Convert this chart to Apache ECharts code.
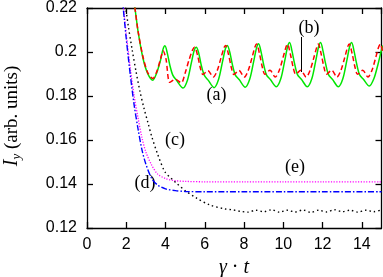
<!DOCTYPE html>
<html><head><meta charset="utf-8">
<script src="https://cdn.jsdelivr.net/npm/echarts@6/dist/echarts.min.js"></script>
<style>html,body{margin:0;padding:0;background:#fff}#c{width:383px;height:277px}</style>
</head><body><div id="c"></div>
<script>
// ---- data ----
const xTicks = [0, 2, 4, 6, 8, 10, 12, 14];
const yTicks = [0.12, 0.14, 0.16, 0.18, 0.2, 0.22];

const greenT = [2.3,2.44,2.61,2.86,3.1,3.35,3.55,3.75,3.87,3.97,4.09,4.22,4.37,4.57,4.89,5.12,5.32,5.47,5.57,5.69,5.82,5.97,6.17,6.47,6.7,6.9,7.05,7.15,7.27,7.4,7.55,7.75,8.06,8.29,8.49,8.64,8.74,8.86,8.99,9.14,9.34,9.64,9.87,10.07,10.22,10.32,10.44,10.57,10.72,10.92,11.22,11.45,11.65,11.8,11.9,12.02,12.15,12.3,12.5,12.8,13.03,13.23,13.38,13.48,13.6,13.73,13.88,14.08,14.38,14.61,14.81,14.96,15.06];
const greenV = [0.2275,0.22,0.2088,0.1968,0.19,0.1872,0.1905,0.1965,0.2012,0.2028,0.1995,0.194,0.1895,0.187,0.1836,0.1873,0.1953,0.201,0.2022,0.1995,0.194,0.1895,0.1872,0.1838,0.1875,0.1955,0.2015,0.203,0.2,0.1945,0.1896,0.1875,0.184,0.1877,0.1957,0.202,0.2037,0.2003,0.1946,0.1896,0.1875,0.1842,0.1878,0.196,0.2025,0.2043,0.2005,0.1948,0.1897,0.1876,0.1842,0.1878,0.196,0.2025,0.2043,0.2005,0.1948,0.1897,0.1876,0.1842,0.1878,0.196,0.2025,0.2043,0.2005,0.1948,0.1897,0.1876,0.1845,0.1878,0.194,0.1995,0.203];

const redT = [2.3,2.44,2.6,2.86,3.1,3.35,3.55,3.75,3.88,4.02,4.22,4.5,4.8,5.0,5.2,5.38,5.48,5.63,5.78,5.9,6.16,6.43,6.63,6.83,6.98,7.06,7.21,7.36,7.48,7.74,8.01,8.21,8.41,8.56,8.64,8.79,8.94,9.06,9.32,9.59,9.79,9.99,10.14,10.21,10.36,10.51,10.63,10.89,11.16,11.36,11.56,11.71,11.78,11.93,12.08,12.2,12.46,12.73,12.93,13.13,13.28,13.36,13.51,13.66,13.78,14.04,14.31,14.51,14.71,14.86,14.94,15.05];
const redV = [0.2275,0.22,0.2095,0.1975,0.1905,0.188,0.191,0.197,0.2005,0.197,0.1862,0.1876,0.186,0.1905,0.1965,0.201,0.2022,0.1985,0.1925,0.1898,0.1915,0.1886,0.1915,0.1975,0.202,0.203,0.1988,0.1926,0.1898,0.1916,0.1886,0.1916,0.1976,0.2024,0.2036,0.199,0.1927,0.1899,0.1917,0.1886,0.1916,0.1976,0.2024,0.2036,0.199,0.1927,0.1899,0.1917,0.1886,0.1916,0.1976,0.2024,0.2036,0.199,0.1927,0.1899,0.1917,0.1886,0.1916,0.1976,0.2024,0.2036,0.199,0.1927,0.1899,0.1917,0.1886,0.1916,0.1976,0.2024,0.2036,0.2005];

const blackT = [1.9,2.1,2.3,2.5,2.7,2.9,3.1,3.3,3.6,3.97,4.3,4.6,5.0,5.6,6.25,7.0,7.4,7.8,8.2,8.6,9.0,9.4,9.8,10.2,10.6,11.0,11.4,11.8,12.2,12.6,13.0,13.4,13.8,14.2,14.6,15.0];
const blackV = [0.225,0.212,0.201,0.191,0.182,0.1745,0.168,0.1615,0.1535,0.1455,0.1425,0.14,0.137,0.1335,0.1305,0.1287,0.1283,0.1276,0.1272,0.1281,0.1274,0.1283,0.1272,0.1281,0.1273,0.1282,0.1271,0.1281,0.1273,0.1283,0.1274,0.1281,0.1272,0.1281,0.1274,0.1283];

const blueT = [1.8,1.9,2.0,2.2,2.4,2.6,2.8,3.0,3.3,3.6,4.0,4.5,5.0,6.0,8.0,10.0,12.0,15.0];
const blueV = [0.224,0.215,0.206,0.19,0.176,0.165,0.1555,0.149,0.1425,0.1395,0.1378,0.137,0.1366,0.1365,0.1365,0.1365,0.1365,0.1365];

const magT = [1.8,1.9,2.0,2.2,2.4,2.6,2.8,3.0,3.3,3.6,4.0,4.5,5.0,6.0,8.0,10.0,12.0,15.0];
const magV = [0.226,0.217,0.208,0.193,0.18,0.17,0.161,0.1545,0.1485,0.1445,0.1425,0.1415,0.1412,0.141,0.141,0.141,0.141,0.141];

const labels = ['(a)', '(b)', '(c)', '(d)', '(e)'];

function pairs(t, v) { return t.map((x, i) => [x, v[i]]); }

const chart = echarts.init(document.getElementById('c'), null, {renderer: 'canvas'});
const axisCommon = {
  axisLine: {show: true, onZero: false, lineStyle: {color: '#000', width: 1.3}},
  axisTick: {show: true, inside: true, length: 6, lineStyle: {color: '#000', width: 1.3}},
  splitLine: {show: false}
};
const lbl = {color: '#000', fontFamily: 'Liberation Sans', fontSize: 16};
const serif = "'Liberation Serif'";

chart.setOption({
  animation: false,
  backgroundColor: '#fff',
  grid: {left: 87, right: 1.5, top: 5, bottom: 49, containLabel: false},
  xAxis: [
    Object.assign({type: 'value', min: xTicks[0], max: 15, interval: 2, position: 'bottom',
      axisLabel: Object.assign({margin: 9, showMaxLabel: false}, lbl)}, axisCommon),
    Object.assign({type: 'value', min: xTicks[0], max: 15, interval: 2, position: 'top',
      axisLabel: {show: false}}, axisCommon)
  ],
  yAxis: [
    Object.assign({type: 'value', min: yTicks[0], max: yTicks[yTicks.length-1], interval: 0.02, position: 'left',
      axisLabel: Object.assign({margin: 10}, lbl)}, axisCommon),
    Object.assign({type: 'value', min: yTicks[0], max: yTicks[yTicks.length-1], interval: 0.02, position: 'right',
      axisLabel: {show: false}}, axisCommon)
  ],
  series: [
    {type: 'line', data: pairs(greenT, greenV), showSymbol: false, smooth: 0.3, clip: true,
      lineStyle: {color: '#00e600', width: 1.5}},
    {type: 'line', data: pairs(redT, redV), showSymbol: false, smooth: 0.3, clip: true,
      lineStyle: {color: '#ff0000', width: 1.5, type: [5, 3]}},
    {type: 'line', data: pairs(blackT, blackV), showSymbol: false, smooth: 0.3, clip: true,
      lineStyle: {color: '#000', width: 1.4, type: [1.5, 3]}},
    {type: 'line', data: pairs(magT, magV), showSymbol: false, smooth: 0.3, clip: true,
      lineStyle: {color: '#ff00ff', width: 1.3, type: [1.2, 1.5]}},
    {type: 'line', data: pairs(blueT, blueV), showSymbol: false, smooth: 0.3, clip: true,
      lineStyle: {color: '#0000ff', width: 1.4, type: [6, 2, 1.5, 2]}}
  ],
  graphic: [
    {type: 'text', x: 216.5, y: 95, style: {text: labels[0], font: '18px ' + serif, fill: '#000', align: 'center', verticalAlign: 'middle'}},
    {type: 'text', x: 309, y: 28, style: {text: labels[1], font: '18px ' + serif, fill: '#000', align: 'center', verticalAlign: 'middle'}},
    {type: 'line', shape: {x1: 301.5, y1: 37, x2: 301.5, y2: 72}, style: {stroke: '#000', lineWidth: 1}},
    {type: 'text', x: 175, y: 140, style: {text: labels[2], font: '18px ' + serif, fill: '#000', align: 'center', verticalAlign: 'middle'}},
    {type: 'text', x: 145, y: 183, style: {text: labels[3], font: '18px ' + serif, fill: '#000', align: 'center', verticalAlign: 'middle'}},
    {type: 'text', x: 295, y: 167, style: {text: labels[4], font: '18px ' + serif, fill: '#000', align: 'center', verticalAlign: 'middle'}},
    {type: 'text', x: 234, y: 268, style: {
      text: '{i|γ} · {i|t}', align: 'center', verticalAlign: 'middle', fill: '#000',
      font: '20px ' + serif,
      rich: {i: {fontStyle: 'italic', fontFamily: 'Liberation Serif', fontSize: 20}}}},
    {type: 'text', x: 12, y: 116, rotation: Math.PI / 2, style: {
      text: '{i|I}{s|y} (arb. units)', align: 'center', verticalAlign: 'middle', fill: '#000',
      font: '19px ' + serif,
      rich: {i: {fontStyle: 'italic', fontFamily: 'Liberation Serif', fontSize: 20},
             s: {fontStyle: 'italic', fontFamily: 'Liberation Serif', fontSize: 13, padding: [9, 0, 0, 0]}}}}
  ]
});
</script></body></html>
